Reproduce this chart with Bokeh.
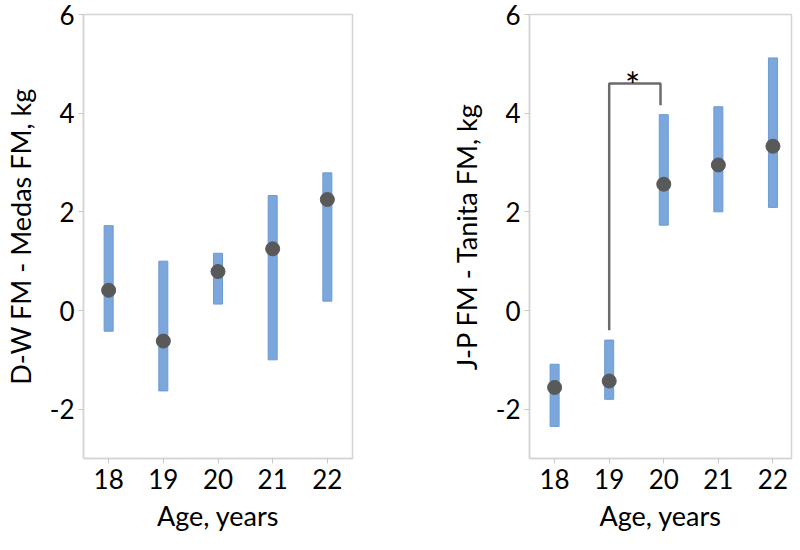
from bokeh.plotting import figure
from bokeh.layouts import row
from bokeh.models import FixedTicker, ColumnDataSource, Range1d
from bokeh.core.properties import value
from bokeh.embed import file_html
from bokeh.resources import INLINE

# ---- data ----
ages = [18, 19, 20, 21, 22]

dw_mean = [0.41, -0.62, 0.79, 1.25, 2.25]
dw_low = [-0.42, -1.63, 0.13, -1.00, 0.19]
dw_high = [1.72, 1.00, 1.16, 2.33, 2.79]

jp_mean = [-1.56, -1.43, 2.56, 2.95, 3.33]
jp_low = [-2.35, -1.80, 1.73, 2.00, 2.09]
jp_high = [-1.09, -0.60, 3.97, 4.13, 5.12]

y_ticks = [-2, 0, 2, 4, 6]
y_tick_labels = {-2: "-2", 0: "0", 2: "2", 4: "4", 6: "6"}
x_ticks = ages

# significance bracket between age 19 and age 20 in right panel
sig_from, sig_to = 19, 19.94
sig_top = 4.60
sig_left_low = -0.40
sig_right_low = 4.16
sig_label = "*"
sig_label_x = 19.43

FONT = "Lato"
BAR = "#7BA7DD"
BAR_EDGE = "#6D9AD3"
DOT = "#595959"
FRAME = "#d4d4d4"


def make_panel(frame_w, border_left, border_right, xr, means, lows, highs, ylabel):
    p = figure(frame_width=frame_w, frame_height=444, output_backend="svg",
               toolbar_location=None,
               x_range=Range1d(*xr), y_range=Range1d(-3, 6),
               min_border_left=border_left, min_border_right=border_right,
               min_border_top=14, min_border_bottom=76)
    src = ColumnDataSource(dict(x=ages, m=means, lo=lows, hi=highs))
    p.vbar(x="x", bottom="lo", top="hi", width=0.165, source=src,
           fill_color=BAR, line_color=BAR_EDGE, line_width=1)
    p.scatter(x="x", y="m", size=14, source=src, fill_color=DOT, line_color=DOT)

    p.xgrid.visible = False
    p.ygrid.visible = False
    p.outline_line_color = FRAME
    p.outline_line_width = 1.5
    p.background_fill_color = "white"
    p.border_fill_color = "white"

    for ax in (p.xaxis[0], p.yaxis[0]):
        ax.axis_line_color = FRAME
        ax.axis_line_width = 1.5
        ax.major_tick_line_color = "#c8c8c8"
        ax.major_tick_out = 5
        ax.major_tick_in = 0
        ax.minor_tick_line_color = None
        ax.major_label_text_font = FONT
        ax.major_label_text_font_size = "26px"
        ax.major_label_text_color = "black"
        ax.axis_label_text_font = FONT
        ax.axis_label_text_font_size = "27px"
        ax.axis_label_text_font_style = "normal"
        ax.axis_label_text_color = "black"

    p.xaxis.ticker = FixedTicker(ticks=x_ticks)
    p.yaxis.ticker = FixedTicker(ticks=y_ticks)
    p.yaxis.major_label_overrides = y_tick_labels
    p.xaxis.axis_label = "Age, years"
    p.yaxis.axis_label = ylabel
    p.xaxis.major_label_standoff = 5
    p.xaxis.axis_label_standoff = 7
    p.yaxis.major_label_standoff = 4
    p.yaxis.axis_label_standoff = 10
    return p


left = make_panel(269, 74, 17, (17.54, 22.46), dw_mean, dw_low, dw_high,
                  "D-W FM - Medas FM, kg")
right = make_panel(262, 160, 2, (17.54, 22.34), jp_mean, jp_low, jp_high,
                   "J-P FM - Tanita FM, kg")

right.line(x=[sig_from, sig_from, sig_to, sig_to],
           y=[sig_left_low, sig_top, sig_top, sig_right_low],
           line_color="#6b6b6b", line_width=2.5)
right.text(x=[sig_label_x], y=[sig_top - 0.02], text=[sig_label],
           text_font=value(FONT), text_font_size="36px", text_color="black",
           text_align="center", text_baseline="alphabetic")

layout = row(left, right)
open("out.html", "w").write(file_html(layout, INLINE))
